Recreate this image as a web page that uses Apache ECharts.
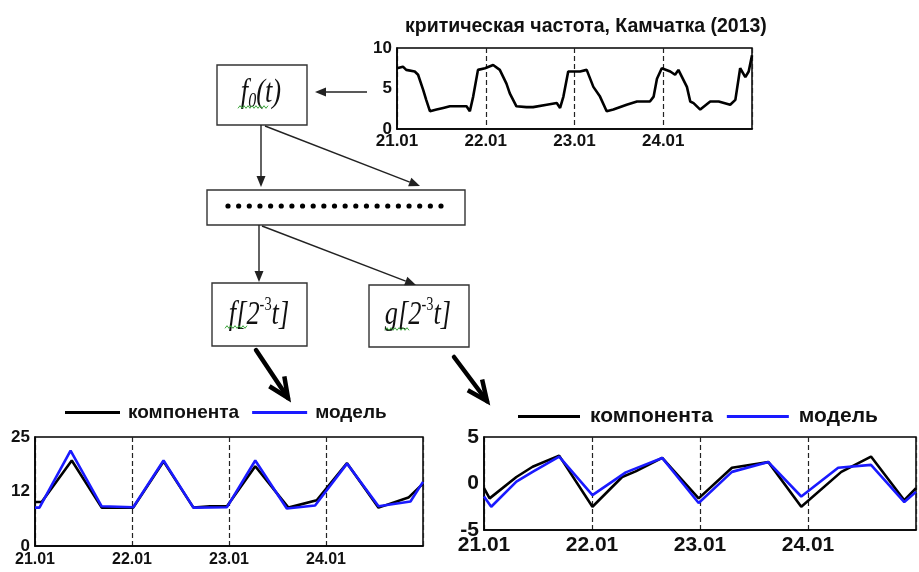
<!DOCTYPE html>
<html>
<head>
<meta charset="utf-8">
<script src="https://cdn.jsdelivr.net/npm/echarts@6/dist/echarts.min.js"></script>
<style>
  html, body { margin: 0; padding: 0; background: #fff; }
  #chart { width: 919px; height: 572px; }
</style>
</head>
<body>
<div id="chart"></div>
<script>
// ---- data (time in hours from 21.01 00:00) ----
const dayLabels = ['21.01', '22.01', '23.01', '24.01', ''];

// critical frequency foF2, Kamchatka, 21-24 Jan 2013
const foHours = [0,1.6,2.5,4.8,5.7,7.1,7.9,8.9,10.7,12.5,14.3,18.8,19.7,20.6,21.9,23.8,26,27.8,29.6,30.5,32.3,35,36.8,40.5,43.2,44.1,45,46.3,49.5,51.3,53.1,54.9,56.7,58.5,62.1,64.9,68.4,69.4,70.3,71.6,73.9,75.2,76.1,78.4,79.3,80.2,82,84.7,87,90.1,91.5,92.8,94.2,95.1,96];
const foValues = [7.5,7.7,7.3,7.1,6.7,4.8,3.6,2.2,2.4,2.6,2.8,2.8,2.2,4.0,7.3,7.5,7.9,7.3,5.6,4.4,2.8,2.7,2.7,3.0,3.2,2.6,4.0,7.1,7.1,7.3,5.2,4.0,2.2,2.4,3.0,3.4,3.4,4.0,6.2,7.5,7.1,6.7,7.3,5.2,3.4,3.2,2.4,3.4,3.4,3.0,3.6,7.5,6.4,7.1,9.1];
const foTicks = ['0', '5', '10'];

// approximation component f[2^-3 t]
const fCompHours = [0,1.65,9.1,16.5,24.3,31.8,39.2,43.3,47.5,54.5,62.7,69.7,77.2,85.0,92.4,96];
const fCompValues = [10.1,10.1,19.6,8.8,8.8,19.4,8.8,9.1,9.1,18.3,8.8,10.5,19.0,8.8,11.1,14.3];
const fModelHours = [0,1.1,8.8,16.5,24.3,31.8,39.2,47.5,54.5,62.3,69.3,77.2,85,92.9,96];
const fModelValues = [8.8,8.8,21.9,9.1,8.9,19.6,8.8,8.9,19.6,8.6,9.3,18.9,9.1,10.2,14.7];
const fTicks = ['0', '12', '25'];

// detail component g[2^-3 t]
const gCompHours = [0,1.25,7.2,10.8,16.7,24.1,30.7,33.7,39.6,47.7,55.1,63.2,70.5,79.4,86.0,93.4,96];
const gCompValues = [-0.5,-1.6,0.7,1.8,3.0,-2.5,0.7,1.3,2.75,-1.6,1.7,2.3,-2.5,1.25,2.9,-1.8,-0.5];
const gModelHours = [0,1.6,7.2,10.8,16.7,24.1,31.5,39.6,47.7,55.1,63.2,70.5,78.7,86.0,93.4,96];
const gModelValues = [-1.4,-2.5,0.2,1.25,2.9,-1.25,1.2,2.75,-2.1,1.25,2.3,-1.4,1.7,2.0,-2.0,-0.9];
const gTicks = ['-5', '0', '5'];

const seriesNames = ['компонента', 'модель'];
const title = 'критическая частота, Камчатка (2013)';

// ---- styling ----
const FONT = "'Liberation Sans',Arial,sans-serif";
const SERIF = "'Liberation Serif','Times New Roman',serif";
const BLUE = '#1a1aff';

const zip = (xs, ys) => xs.map((x, i) => [x, ys[i]]);

function xAxisFor(gridIndex, fontSize, margin) {
  return {
    type: 'value', gridIndex, min: 0, max: 96, interval: 24,
    axisLine: { show: true, onZero: false, lineStyle: { color: '#000', width: 1.5 } },
    axisTick: { show: false },
    splitLine: { show: true, lineStyle: { color: '#222', width: 1.2, type: [5, 3] } },
    axisLabel: {
      formatter: v => dayLabels[Math.round(v / 24)],
      fontFamily: FONT, fontWeight: 'bold', fontSize, color: '#111', margin
    }
  };
}
function yAxisFor(gridIndex, min, max, interval, ticks, fontSize) {
  return {
    type: 'value', gridIndex, min, max, interval,
    axisLine: { show: true, onZero: false, lineStyle: { color: '#000', width: 1.5 } },
    axisTick: { show: false },
    splitLine: { show: false },
    axisLabel: {
      formatter: v => ticks[Math.round((v - min) / interval)],
      fontFamily: FONT, fontWeight: 'bold', fontSize, color: '#111', margin: 5
    }
  };
}
function lineSeries(name, axisIndex, data, color, z) {
  return {
    name, type: 'line', xAxisIndex: axisIndex, yAxisIndex: axisIndex,
    data, color, symbol: 'none', z,
    lineStyle: { color, width: 2.6 }
  };
}

// ---- block diagram ----
const INK = '#222';
const graphics = [];

function box(x, y, w, h) {
  graphics.push({ type: 'rect', shape: { x, y, width: w, height: h },
    style: { fill: '#fff', stroke: '#333', lineWidth: 1.4 }, z: 10 });
}
function arrow(x1, y1, x2, y2) {
  const a = Math.atan2(y2 - y1, x2 - x1), L = 11, W = 4.5;
  const bx = x2 - L * Math.cos(a), by = y2 - L * Math.sin(a);
  graphics.push({ type: 'line', shape: { x1, y1, x2: bx, y2: by },
    style: { stroke: INK, lineWidth: 1.4 }, z: 10 });
  graphics.push({ type: 'polygon', shape: { points: [
      [x2, y2],
      [bx + W * Math.sin(a), by - W * Math.cos(a)],
      [bx - W * Math.sin(a), by + W * Math.cos(a)]] },
    style: { fill: INK }, z: 10 });
}
function thickArrow(x1, y1, x2, y2) {
  const a = Math.atan2(y2 - y1, x2 - x1), L = 22, spread = 0.42;
  graphics.push({ type: 'line', shape: { x1, y1, x2, y2 },
    style: { stroke: '#000', lineWidth: 4.5, lineCap: 'round' }, z: 10 });
  graphics.push({ type: 'polyline', shape: { points: [
      [x2 - L * Math.cos(a - spread), y2 - L * Math.sin(a - spread)],
      [x2, y2],
      [x2 - L * Math.cos(a + spread), y2 - L * Math.sin(a + spread)]] },
    style: { stroke: '#000', lineWidth: 4.5, lineJoin: 'miter', fill: null }, z: 10 });
}
function squiggle(x, y, w) {
  const pts = [];
  for (let i = 0; i <= w; i += 2) pts.push([x + i, y + ((i / 2) % 2 ? -1.3 : 1.3)]);
  graphics.push({ type: 'polyline', shape: { points: pts },
    style: { stroke: '#3aa63a', lineWidth: 1, fill: null }, z: 12 });
}
function formula(cx, cy, text) {
  graphics.push({ type: 'text', x: cx, y: cy, scaleX: 0.8, z: 11,
    style: { text, x: 0, y: 0, align: 'center', verticalAlign: 'middle',
      fill: '#111',
      rich: {
        m: { fontFamily: SERIF, fontStyle: 'italic', fontSize: 33, fill: '#111', lineHeight: 38 },
        s: { fontFamily: SERIF, fontStyle: 'italic', fontSize: 20, fill: '#111', verticalAlign: 'bottom', lineHeight: 38 },
        u: { fontFamily: SERIF, fontSize: 18, fill: '#111', verticalAlign: 'top', lineHeight: 38 }
      } } });
}

// boxes
box(217, 65, 90, 60);
box(207, 190, 258, 35);
box(212, 283, 95, 63);
box(369, 285, 100, 62);

formula(261, 93, '{m|f}{s|0}{m|(t)}');
formula(259, 315, '{m|f[2}{u|-3}{m|t]}');
formula(418, 315, '{m|g[2}{u|-3}{m|t]}');
squiggle(238, 107, 30);
squiggle(225, 327, 22);
squiggle(385, 329, 24);

// dotted row inside the middle box
for (let i = 0; i < 21; i++) {
  graphics.push({ type: 'circle', shape: { cx: 228 + i * 10.65, cy: 206, r: 2.6 },
    style: { fill: '#000' }, z: 11 });
}

// connectors
arrow(367, 92, 315, 92);
arrow(261, 125, 261, 187);
arrow(265, 126, 420, 186);
arrow(259, 225, 259, 282);
arrow(262, 226, 416, 285);
thickArrow(256, 350, 288, 398);
thickArrow(454, 357, 487, 401);

const option = {
  animation: false,
  backgroundColor: '#fff',
  title: {
    text: title, left: 400, top: 12,
    textStyle: { fontFamily: FONT, fontWeight: 'bold', fontSize: 19.5, color: '#111' }
  },
  legend: [
    {
      data: seriesNames, left: 65, top: 403, padding: 0,
      icon: 'rect', itemWidth: 55, itemHeight: 3, itemGap: 13,
      textStyle: { fontFamily: FONT, fontWeight: 'bold', fontSize: 19, color: '#111', padding: [0, 0, 0, 3] },
      selectedMode: false
    },
    {
      data: seriesNames, left: 518, top: 406, padding: 0,
      icon: 'rect', itemWidth: 62, itemHeight: 3, itemGap: 14,
      textStyle: { fontFamily: FONT, fontWeight: 'bold', fontSize: 21, color: '#111', padding: [0, 0, 0, 5] },
      selectedMode: false
    }
  ],
  grid: [
    { left: 397, top: 48, width: 355, height: 81, show: true, borderColor: '#000', borderWidth: 1.5 },
    { left: 35, top: 437, width: 388, height: 109, show: true, borderColor: '#000', borderWidth: 1.5 },
    { left: 484, top: 437, width: 436, height: 93, show: true, borderColor: '#000', borderWidth: 1.5 }
  ],
  xAxis: [xAxisFor(0, 17, 4), xAxisFor(1, 16, 6), xAxisFor(2, 21, 5)],
  yAxis: [
    yAxisFor(0, 0, 10, 5, foTicks, 17),
    yAxisFor(1, 0, 25, 12.5, fTicks, 17),
    yAxisFor(2, -5, 5, 5, gTicks, 21)
  ],
  series: [
    lineSeries('критическая частота', 0, zip(foHours, foValues), '#000', 3),
    lineSeries(seriesNames[0], 1, zip(fCompHours, fCompValues), '#000', 3),
    lineSeries(seriesNames[1], 1, zip(fModelHours, fModelValues), BLUE, 4),
    lineSeries(seriesNames[0], 2, zip(gCompHours, gCompValues), '#000', 3),
    lineSeries(seriesNames[1], 2, zip(gModelHours, gModelValues), BLUE, 4)
  ],
  graphic: { elements: graphics }
};

const chart = echarts.init(document.getElementById('chart'), null, { renderer: 'canvas' });
chart.setOption(option);
</script>
</body>
</html>
